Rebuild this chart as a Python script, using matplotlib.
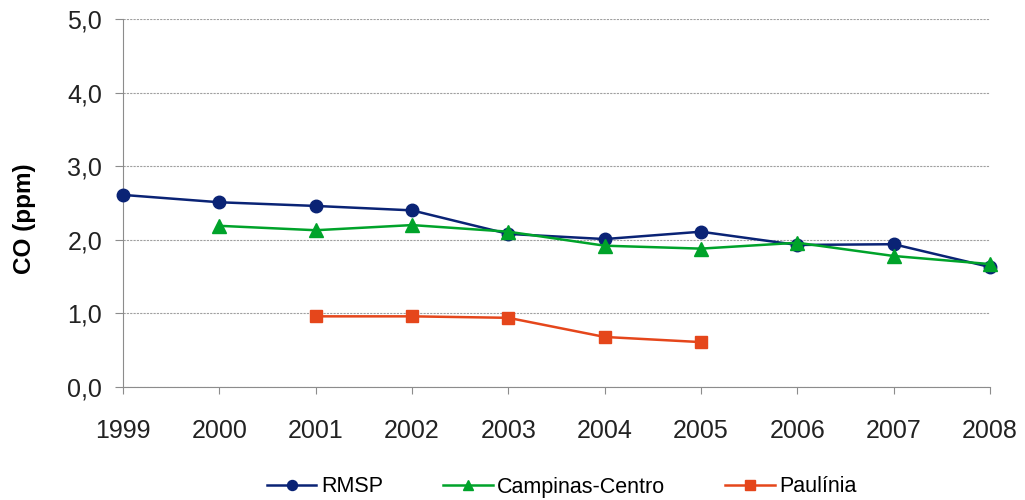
import matplotlib
matplotlib.use("Agg")
import matplotlib.pyplot as plt
from matplotlib.ticker import FuncFormatter

plt.rcParams["font.family"] = ["Liberation Sans", "DejaVu Sans"]

years = [1999, 2000, 2001, 2002, 2003, 2004, 2005, 2006, 2007, 2008]
rmsp = [2.61, 2.51, 2.46, 2.40, 2.08, 2.01, 2.11, 1.93, 1.94, 1.63]
campinas_years = [2000, 2001, 2002, 2003, 2004, 2005, 2006, 2007, 2008]
campinas = [2.19, 2.13, 2.20, 2.11, 1.92, 1.88, 1.96, 1.78, 1.67]
paulinia_years = [2001, 2002, 2003, 2004, 2005]
paulinia = [0.96, 0.96, 0.94, 0.68, 0.61]

fig = plt.figure(figsize=(10.25, 5.0), dpi=100)
ax = fig.add_axes([123 / 1025, 1 - 387 / 500, 867 / 1025, 368 / 500])

ax.plot(years, rmsp, color="#0a2375", lw=1.8, marker="o", ms=9, label="RMSP",
        zorder=3, clip_on=False)
ax.plot(campinas_years, campinas, color="#00a32a", lw=1.8, marker="^", ms=9.5,
        label="Campinas-Centro", zorder=4, clip_on=False)
ax.plot(paulinia_years, paulinia, color="#e5461b", lw=1.8, marker="s", ms=9,
        label="Paulínia", zorder=3, clip_on=False)

ax.set_xlim(1999, 2008)
ax.set_ylim(0, 5)
ax.set_xticks(years)
ax.set_yticks([0, 1, 2, 3, 4, 5])
ax.yaxis.set_major_formatter(FuncFormatter(lambda v, _: f"{v:.1f}".replace(".", ",")))
ax.grid(axis="y", color="#a0a0a0", linestyle=(0, (2, 1)), lw=0.8)
ax.set_axisbelow(True)

for side in ("top", "right"):
    ax.spines[side].set_visible(False)
for side in ("left", "bottom"):
    ax.spines[side].set_color("#8c8c8c")
    ax.spines[side].set_zorder(1)
ax.tick_params(axis="x", length=5, direction="out", labelsize=18, pad=18)
ax.tick_params(axis="y", length=6, direction="out", labelsize=18, pad=9)
ax.tick_params(axis="both", labelcolor="#222222", colors="#8c8c8c")
ax.set_ylabel("CO (ppm)", fontsize=17.5, fontweight="bold")
ax.yaxis.set_label_coords(-0.1005, 0.457)

fig.legend(loc="center", bbox_to_anchor=(0.548, 0.026), ncol=3, frameon=False,
           fontsize=15.5, handlelength=2.3, columnspacing=2.8, handletextpad=0.2,
           markerscale=0.8)

fig.savefig("out.png", dpi=100)
